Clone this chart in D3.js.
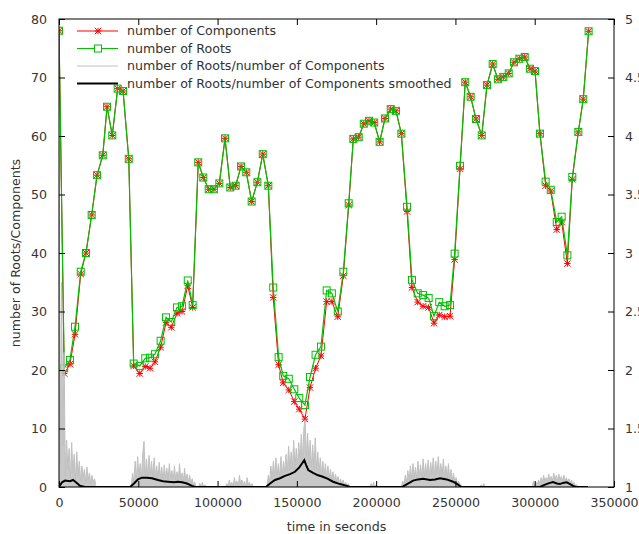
<!DOCTYPE html>
<html>
<head>
<meta charset="utf-8">
<script src="https://cdn.jsdelivr.net/npm/d3@7/dist/d3.min.js"></script>
<style>
  html, body { margin: 0; padding: 0; background: #fff; }
  svg text { font-family: "DejaVu Sans", sans-serif; fill: #333; }
</style>
</head>
<body>
<svg id="chart" width="639" height="534"></svg>
<script>
// ---------- data ----------
const times = [0,3300,6900,10100,13700,17000,20600,24000,27600,30300,33600,37000,40400,44000,
  47100,50900,54400,57400,60500,64100,67500,70800,74400,77600,81200,84300,
  87800,91000,94400,97700,101100,104700,108000,111400,114800,118100,121500,125100,128500,132000,
  135100,138500,141400,144900,148400,151500,155100,158300,161800,165200,168800,172100,175800,179300,
  182700,185600,189000,192200,195500,198800,202200,205600,209200,212500,215900,
  219500,222600,226200,229600,233100,236500,239800,243200,246600,249500,252900,
  256200,259600,263000,266600,269900,273500,276800,280200,283600,286900,290300,293700,297000,300200,
  303300,306900,310100,313900,317000,320600,323700,327500,330600,334000];

const components = [78,19.4,21.0,26.1,36.4,40.0,46.5,53.3,56.7,65.0,60.1,68.1,67.7,56.1,
  20.7,19.4,20.6,20.3,21.4,23.9,28.1,27.3,29.7,30.0,34.4,30.7,
  55.5,52.9,50.9,50.9,51.9,59.6,51.2,51.5,54.8,53.8,48.8,52.1,56.9,51.5,
  32.4,20.9,17.8,16.6,14.6,13.3,11.6,17.0,20.3,22.4,31.7,31.7,29.1,36.1,
  48.2,59.5,59.8,62.1,62.6,62.3,59.0,63.0,64.6,64.3,60.4,
  47.1,34.1,31.6,30.9,30.7,28.0,29.4,29.1,29.2,38.9,54.4,
  69.2,66.7,62.9,60.1,68.7,72.3,69.7,70.1,70.7,72.6,73.2,73.5,71.5,71.1,
  60.4,51.5,50.6,44.0,45.3,38.2,52.6,60.7,66.3,77.9];

const roots = [78,20.3,21.7,27.4,36.8,40.0,46.5,53.3,56.7,65.0,60.1,68.1,67.7,56.1,
  21.1,20.7,22.0,22.1,22.7,25.0,29.0,28.2,30.7,30.9,35.3,31.1,
  55.5,52.9,50.9,50.9,51.9,59.6,51.2,51.5,54.8,53.8,48.8,52.1,56.9,51.5,
  34.1,22.2,19.0,18.5,16.7,15.2,14.0,18.8,22.6,24.0,33.6,33.1,30.0,36.8,
  48.5,59.5,59.8,62.1,62.6,62.3,59.0,63.0,64.6,64.3,60.4,
  47.9,35.4,33.1,32.8,32.3,29.2,31.6,30.9,31.1,39.9,54.9,
  69.2,66.7,62.9,60.1,68.7,72.3,69.7,70.1,70.7,72.6,73.2,73.5,71.5,71.1,
  60.4,52.2,50.8,45.3,46.2,39.6,53.0,60.7,66.3,77.9];

// ratio roots/components (raw, dense) – segments of samples: start time, sample step, values
const ratioStarts = [0, 45600, 88000, 105000, 131200, 196000, 216000, 265500, 298400];
const ratioStep = 800;
const ratioValues = [
  [4.15,1.2,2.75,1.35,2.15,1.1,1.4,1.15,1.33,1.08,1.38,1.12,1.28,1.06,1.3,1.1,1.22,1.05,
   1.18,1.08,1.15,1.04,1.17,1.06,1.12,1.03,1.1,1.04,1.07,1.02],
  [1.02,1.12,1.04,1.22,1.06,1.26,1.08,1.2,1.07,1.28,1.39,1.09,1.24,1.08,1.27,1.1,1.22,1.07,
   1.25,1.09,1.18,1.06,1.21,1.08,1.17,1.05,1.19,1.07,1.16,1.06,1.2,1.07,1.14,1.05,1.18,1.06,
   1.13,1.05,1.2,1.06,1.12,1.04,1.16,1.05,1.11,1.04,1.1,1.03,1.07,1.02,1.04,1.0],
  [1.0,1.03,1.0,1.04,1.0,1.02,1.0],
  [1.0,1.03,1.0,1.06,1.01,1.04,1.0,1.08,1.02,1.05,1.0,1.1,1.02,1.06,1.01,1.05,1.0,1.08,
   1.02,1.04,1.0,1.03,1.0,1.0],
  [1.02,1.1,1.04,1.18,1.07,1.22,1.09,1.25,1.1,1.2,1.08,1.26,1.1,1.22,1.12,1.28,1.13,1.35,
   1.14,1.3,1.16,1.4,1.15,1.33,1.18,1.38,1.2,1.45,1.22,1.5,1.575,1.25,1.46,1.2,1.4,1.17,
   1.36,1.15,1.42,1.14,1.3,1.12,1.25,1.1,1.22,1.09,1.2,1.08,1.18,1.07,1.15,1.06,1.13,1.05,
   1.11,1.04,1.09,1.03,1.07,1.02,1.06,1.02,1.04,1.01,1.03,1.0,1.0],
  [1.0,1.03,1.0,1.04,1.0,1.02,1.0],
  [1.01,1.05,1.02,1.1,1.04,1.14,1.06,1.18,1.07,1.2,1.08,1.17,1.07,1.22,1.09,1.19,1.08,1.24,
   1.09,1.2,1.1,1.23,1.09,1.21,1.1,1.25,1.1,1.22,1.11,1.26,1.1,1.2,1.09,1.24,1.08,1.18,1.07,
   1.2,1.06,1.15,1.05,1.12,1.04,1.08,1.03,1.05,1.02,1.02,1.0],
  [1.0,1.02,1.0,1.03,1.0],
  [1.0,1.05,1.01,1.04,1.02,1.06,1.03,1.08,1.04,1.1,1.05,1.08,1.05,1.11,1.06,1.09,1.05,1.12,
   1.06,1.1,1.05,1.11,1.06,1.09,1.05,1.1,1.05,1.08,1.04,1.07,1.03,1.06,1.02,1.04,1.01,1.02,1.0,1.0]
];

// smoothed ratio
const smoothTimes = [0,1900,3800,6900,8800,10700,13200,16400,44800,47300,49800,52300,55500,58600,
  62400,65600,68700,72500,75000,77600,80700,83900,85800,130500,133100,136200,139400,142500,
  145700,148800,151400,154700,155800,157200,160200,163400,165900,169600,172800,177200,181600,
  183500,216300,219500,223300,226400,229600,234000,237100,240300,244500,248500,251700,253500,
  303300,306500,309600,311500,314000,315900,317800,320200,322300,324200,326100,333600];
const smoothValues = [1.0,1.04,1.055,1.05,1.06,1.04,1.01,1.0,1.0,1.03,1.065,1.08,1.08,1.075,
  1.06,1.05,1.045,1.04,1.045,1.04,1.03,1.01,1.0,1.0,1.03,1.06,1.075,1.095,
  1.11,1.13,1.165,1.23,1.19,1.145,1.12,1.1,1.09,1.07,1.045,1.025,1.01,
  1.0,1.0,1.025,1.055,1.065,1.07,1.06,1.065,1.075,1.065,1.045,1.02,1.0,
  1.0,1.02,1.035,1.0425,1.03,1.025,1.035,1.04,1.025,1.01,1.0,1.0];

const xTicks = [0,50000,100000,150000,200000,250000,300000,350000];
const yTicks = [0,10,20,30,40,50,60,70,80];
const y2Ticks = [1,1.5,2,2.5,3,3.5,4,4.5,5];
const seriesNames = ["number of Components","number of Roots",
  "number of Roots/number of Components","number of Roots/number of Components smoothed"];

// ---------- drawing ----------
const L = 59, R = 614, T = 19, B = 487;
const svg = d3.select("#chart");
const x = d3.scaleLinear().domain([0,350000]).range([L,R]);
const y = d3.scaleLinear().domain([0,80]).range([B,T]);
const y2 = d3.scaleLinear().domain([1,5]).range([B,T]);
const FS = "12.6px";

const plot = svg.append("g");
svg.append("clipPath").attr("id","pc").append("rect")
  .attr("x",L).attr("y",T).attr("width",R-L).attr("height",B-T);

const red = "#ff0000", green = "#00c000", gray = "#c0c0c0";

const compPts = times.map((t,i)=>[t,components[i]]);
const rootPts = times.map((t,i)=>[t,roots[i]]);
const line = d3.line().x(d=>x(d[0])).y(d=>y(d[1]));
const line2 = d3.line().x(d=>x(d[0])).y(d=>y2(d[1]));
const area2 = d3.area().x(d=>x(d[0])).y0(y2(1)).y1(d=>y2(d[1]));

function asterisk(cx, cy, s) {
  return `M${cx-s},${cy}L${cx+s},${cy}M${cx},${cy-s}L${cx},${cy+s}` +
         `M${cx-s},${cy-s}L${cx+s},${cy+s}M${cx-s},${cy+s}L${cx+s},${cy-s}`;
}

const g = plot.append("g").attr("clip-path","url(#pc)");
// components
g.append("path").attr("d", line(compPts)).attr("fill","none")
  .attr("stroke",red).attr("stroke-width",1);
g.append("g").selectAll("path").data(compPts).join("path")
  .attr("d", d=>asterisk(x(d[0]), y(d[1]), 3.2))
  .attr("stroke",red).attr("stroke-width",1).attr("fill","none");
// roots
g.append("path").attr("d", line(rootPts)).attr("fill","none")
  .attr("stroke",green).attr("stroke-width",1.2);
g.append("g").selectAll("rect").data(rootPts).join("rect")
  .attr("x", d=>x(d[0])-3.5).attr("y", d=>y(d[1])-3.5)
  .attr("width",7).attr("height",7)
  .attr("fill","none").attr("stroke",green).attr("stroke-width",1);
// raw ratio
ratioStarts.forEach((s,k)=>{
  const pts = ratioValues[k].map((v,i)=>[s + i*ratioStep, v]);
  g.append("path").attr("d", area2(pts)).attr("fill","#c8c8c8").attr("stroke","none");
  g.append("path").attr("d", line2(pts)).attr("fill","none")
    .attr("stroke",gray).attr("stroke-width",1);
});
// smoothed ratio
g.append("path").attr("d", line2(smoothTimes.map((t,i)=>[t,smoothValues[i]])))
  .attr("fill","none").attr("stroke","#000").attr("stroke-width",2);

// frame
svg.append("rect").attr("x",L).attr("y",T).attr("width",R-L).attr("height",B-T)
  .attr("fill","none").attr("stroke","#000").attr("stroke-width",1);

function styleAxis(sel){
  sel.select(".domain").remove();
  sel.selectAll("line").attr("stroke","#000");
  sel.selectAll("text").style("font-size",FS).attr("fill","#333");
}
svg.append("g").attr("transform",`translate(0,${B})`)
  .call(d3.axisBottom(x).tickValues(xTicks).tickFormat(d3.format("d")).tickSizeInner(-6).tickSizeOuter(0).tickPadding(11))
  .call(styleAxis);
svg.append("g").attr("transform",`translate(0,${T})`)
  .call(d3.axisTop(x).tickValues(xTicks).tickFormat("").tickSizeInner(-6).tickSizeOuter(0))
  .call(styleAxis);
svg.append("g").attr("transform",`translate(${L},0)`)
  .call(d3.axisLeft(y).tickValues(yTicks).tickFormat(d3.format("d")).tickSizeInner(-6).tickSizeOuter(0).tickPadding(12))
  .call(styleAxis);
svg.append("g").attr("transform",`translate(${R},0)`)
  .call(d3.axisRight(y2).tickValues(y2Ticks).tickFormat(d=> Number.isInteger(d) ? String(d) : d.toFixed(1)).tickSizeInner(-6).tickSizeOuter(0).tickPadding(11))
  .call(styleAxis);

// axis titles
svg.append("text").attr("x",(L+R)/2).attr("y",531).attr("text-anchor","middle")
  .style("font-size",FS).text("time in seconds");
svg.append("text").attr("transform",`translate(20,${(T+B)/2}) rotate(-90)`)
  .attr("text-anchor","middle").style("font-size",FS).text("number of Roots/Components");

// legend
const lg = svg.append("g");
const rows = [31, 48.5, 66, 83.5];
const lx1 = 77, lx2 = 118, lm = 98;
seriesNames.forEach((n,i)=>{
  const ry = rows[i];
  const col = [red, green, gray, "#000"][i];
  lg.append("line").attr("x1",lx1).attr("x2",lx2).attr("y1",ry).attr("y2",ry)
    .attr("stroke",col).attr("stroke-width", i===3 ? 2 : (i===2 ? 1 : 1.2));
  if (i===0) lg.append("path").attr("d",asterisk(lm,ry,3.2)).attr("stroke",red).attr("fill","none");
  if (i===1) lg.append("rect").attr("x",lm-3.5).attr("y",ry-3.5).attr("width",7).attr("height",7)
    .attr("fill","#fff").attr("stroke",green);
  lg.append("text").attr("x",127).attr("y",ry).attr("dy","0.35em")
    .style("font-size",FS).text(n);
});
</script>
</body>
</html>
